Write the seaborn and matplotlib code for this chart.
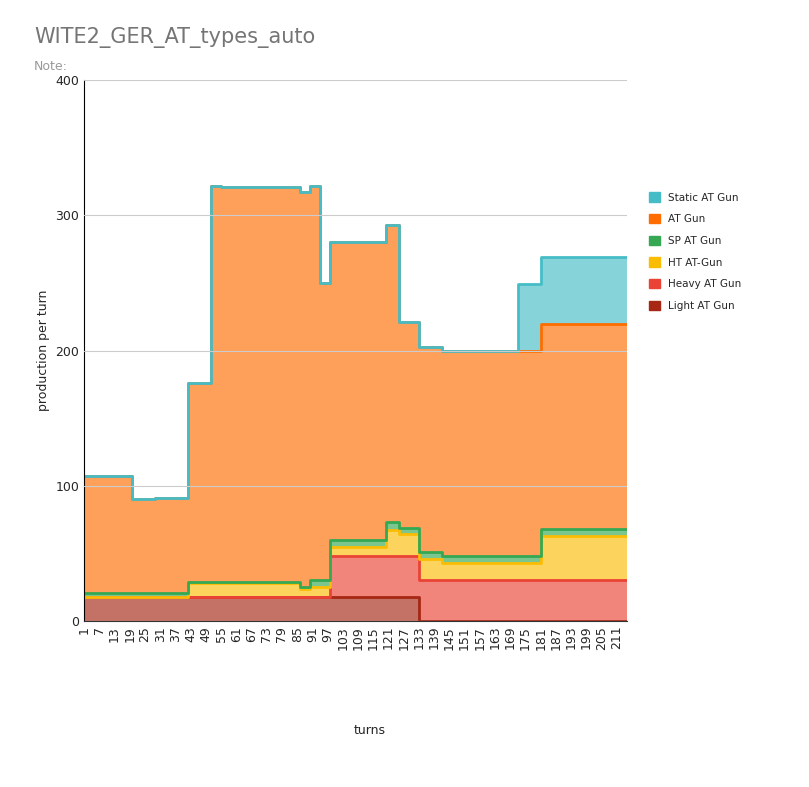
import numpy as np
import matplotlib
matplotlib.use("Agg")
import matplotlib.pyplot as plt
import seaborn as sns

seg_start = [1, 20, 29, 42, 51, 55, 86, 90, 94, 98, 120, 125, 133, 142, 172, 181]
seg_end = 215
light = [18, 18, 18, 18, 18, 18, 18, 18, 18, 18, 18, 18, 0, 0, 0, 0]
heavy = [0, 0, 0, 0, 0, 0, 0, 0, 0, 30, 30, 30, 30, 30, 30, 30]
ht = [0, 0, 0, 10, 10, 10, 6, 7, 7, 7, 19, 16, 16, 13, 13, 33]
sp = [3, 3, 3, 1, 1, 1, 1, 5, 5, 5, 6, 5, 5, 5, 5, 5]
total = [107, 90, 91, 176, 322, 321, 317, 322, 250, 280, 293, 221, 203, 200, 249, 269]
static = [0, 0, 0, 0, 0, 0, 0, 0, 0, 0, 0, 0, 0, 0, 49, 49]
at = [t - s - (a + b + c + d) for t, s, a, b, c, d in zip(total, static, light, heavy, ht, sp)]

series = [("Light AT Gun", light, "#a52714"), ("Heavy AT Gun", heavy, "#ea4335"),
          ("HT AT-Gun", ht, "#fbbc04"), ("SP AT Gun", sp, "#34a853"),
          ("AT Gun", at, "#ff6d01"), ("Static AT Gun", static, "#46bdc6")]

sns.set_style("white")
fig = plt.figure(figsize=(8.09, 7.87), dpi=100)
ax = fig.add_axes([0.104, 0.211, 0.671, 0.687])

x = np.array(seg_start + [seg_end], dtype=float)
base = np.zeros(len(seg_start) + 1)
handles = []
for name, vals, col in series:
    v = np.array(vals + [vals[-1]], dtype=float)
    top = base + v
    ax.fill_between(x, base, top, step="post", color=col, alpha=0.65, lw=0)
    sns.lineplot(x=x, y=top, drawstyle="steps-post", color=col, lw=2, ax=ax)
    handles.append((name, col))
    base = top

ax.set_xlim(1, seg_end)
ax.set_ylim(0, 400)
ax.set_yticks([0, 100, 200, 300, 400])
ax.yaxis.grid(True, color="#cccccc", lw=0.8)
ax.set_axisbelow(False)
ticks = list(range(1, 212, 6))
ax.set_xticks(ticks)
ax.set_xticklabels([str(t) for t in ticks], rotation=90, fontsize=9)
ax.tick_params(axis="y", labelsize=9, length=0)
ax.tick_params(axis="x", length=0)
for s in ["top", "right"]:
    ax.spines[s].set_visible(False)
ax.spines["left"].set_color("black")
ax.spines["bottom"].set_color("#333333")
ax.set_ylabel("production per turn", fontsize=9)
ax.set_xlabel("")
fig.text(370 / 809, 1 - 730 / 787, "turns", ha="center", va="center", fontsize=9)
fig.text(34 / 809, 1 - 38 / 787, "WITE2_GER_AT_types_auto", fontsize=15, color="#757575", va="center")
fig.text(34 / 809, 1 - 66 / 787, "Note:", fontsize=9, color="#999999", va="center")

from matplotlib.patches import Patch
leg_items = list(reversed(handles))
ax.legend([Patch(color=c) for n, c in leg_items], [n for n, c in leg_items],
          loc="upper left", bbox_to_anchor=(640 / 809, 1 - 183 / 787), bbox_transform=fig.transFigure,
          frameon=False, fontsize=7.5, handlelength=1.0, handleheight=1.0, labelspacing=1.1)
fig.savefig("out.png", dpi=100)
